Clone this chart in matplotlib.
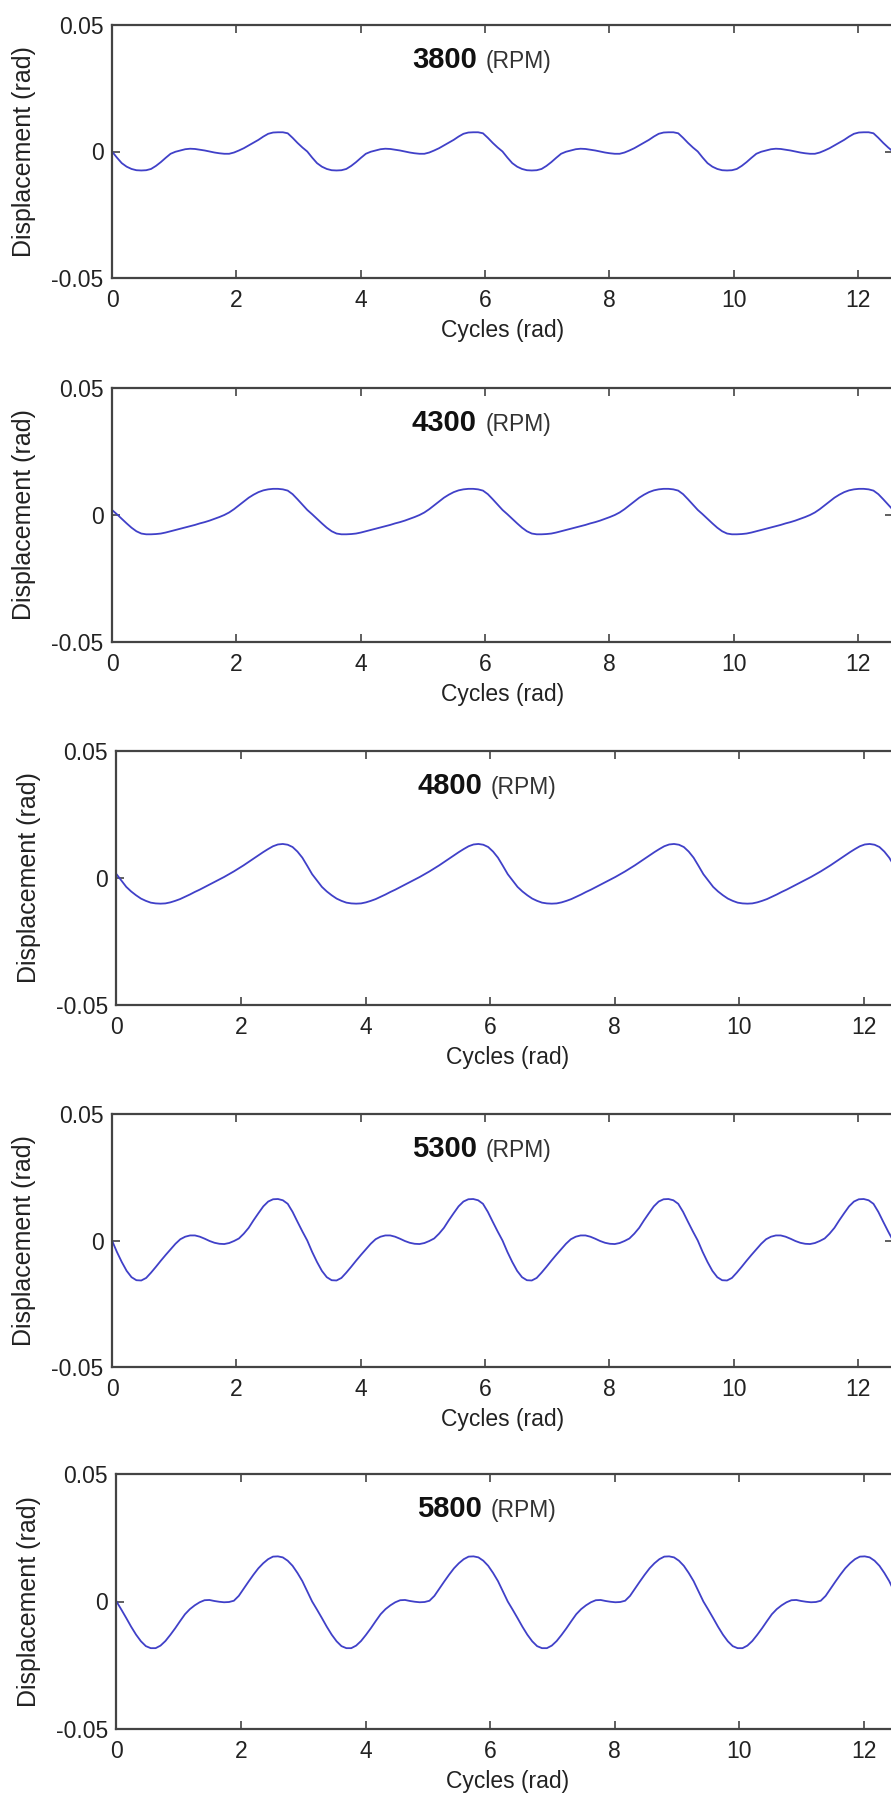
import numpy as np
import matplotlib
matplotlib.use("Agg")
import matplotlib.pyplot as plt

plt.rcParams["font.family"] = ["Liberation Sans", "DejaVu Sans"]

# speeds shown in each panel (top to bottom)
rpm = ["3800", "4300", "4800", "5300", "5800"]

# cycles axis, read at pi/40 steps from 0 to 4*pi
cycles = np.linspace(0, 4 * np.pi, 161)

# displacement readings in mrad, one row per pi of cycles
disp_3800 = [
    0.0, -2.4, -4.6, -6.0, -6.9, -7.4, -7.5, -7.4, -6.9, -5.7, -4.2, -2.5, -0.9, -0.1, 0.4, 0.9, 1.1, 1.0, 0.7, 0.4,
    0.0, -0.4, -0.7, -0.9, -0.9, -0.4, 0.4, 1.3, 2.4, 3.5, 4.6, 5.9, 7.0, 7.5, 7.6, 7.6, 7.2, 5.4, 3.4, 1.6,
    0.0, -2.4, -4.6, -6.0, -6.9, -7.4, -7.5, -7.4, -6.9, -5.7, -4.2, -2.5, -0.9, -0.1, 0.4, 0.9, 1.1, 1.0, 0.7, 0.4,
    0.0, -0.4, -0.7, -0.9, -0.9, -0.4, 0.4, 1.3, 2.4, 3.5, 4.6, 5.9, 7.0, 7.5, 7.6, 7.6, 7.2, 5.4, 3.4, 1.6,
    0.0, -2.4, -4.6, -6.0, -6.9, -7.4, -7.5, -7.4, -6.9, -5.7, -4.2, -2.5, -0.9, -0.1, 0.4, 0.9, 1.1, 1.0, 0.7, 0.4,
    0.0, -0.4, -0.7, -0.9, -0.9, -0.4, 0.4, 1.3, 2.4, 3.5, 4.6, 5.9, 7.0, 7.5, 7.6, 7.6, 7.2, 5.4, 3.4, 1.6,
    0.0, -2.4, -4.6, -6.0, -6.9, -7.4, -7.5, -7.4, -6.9, -5.7, -4.2, -2.5, -0.9, -0.1, 0.4, 0.9, 1.1, 1.0, 0.7, 0.4,
    0.0, -0.4, -0.7, -0.9, -0.9, -0.4, 0.4, 1.3, 2.4, 3.5, 4.6, 5.9, 7.0, 7.5, 7.6, 7.6, 7.2, 5.4, 3.4, 1.6,
    0.0]
disp_4300 = [
    2.0, 0.3, -1.5, -3.3, -5.0, -6.4, -7.3, -7.6, -7.6, -7.5, -7.3, -6.9, -6.4, -5.9, -5.4, -4.9, -4.4, -3.9, -3.3, -2.8,
    -2.2, -1.5, -0.8, 0.0, 1.0, 2.3, 3.8, 5.3, 6.8, 8.0, 9.0, 9.7, 10.1, 10.3, 10.3, 10.1, 9.6, 8.2, 6.2, 4.1,
    2.0, 0.3, -1.5, -3.3, -5.0, -6.4, -7.3, -7.6, -7.6, -7.5, -7.3, -6.9, -6.4, -5.9, -5.4, -4.9, -4.4, -3.9, -3.3, -2.8,
    -2.2, -1.5, -0.8, 0.0, 1.0, 2.3, 3.8, 5.3, 6.8, 8.0, 9.0, 9.7, 10.1, 10.3, 10.3, 10.1, 9.6, 8.2, 6.2, 4.1,
    2.0, 0.3, -1.5, -3.3, -5.0, -6.4, -7.3, -7.6, -7.6, -7.5, -7.3, -6.9, -6.4, -5.9, -5.4, -4.9, -4.4, -3.9, -3.3, -2.8,
    -2.2, -1.5, -0.8, 0.0, 1.0, 2.3, 3.8, 5.3, 6.8, 8.0, 9.0, 9.7, 10.1, 10.3, 10.3, 10.1, 9.6, 8.2, 6.2, 4.1,
    2.0, 0.3, -1.5, -3.3, -5.0, -6.4, -7.3, -7.6, -7.6, -7.5, -7.3, -6.9, -6.4, -5.9, -5.4, -4.9, -4.4, -3.9, -3.3, -2.8,
    -2.2, -1.5, -0.8, 0.0, 1.0, 2.3, 3.8, 5.3, 6.8, 8.0, 9.0, 9.7, 10.1, 10.3, 10.3, 10.1, 9.6, 8.2, 6.2, 4.1,
    2.0]
disp_4800 = [
    1.5, -1.0, -3.5, -5.3, -6.8, -8.1, -9.0, -9.7, -10.0, -10.1, -10.0, -9.6, -9.0, -8.3, -7.4, -6.5, -5.5, -4.6, -3.6, -2.6,
    -1.6, -0.6, 0.4, 1.5, 2.6, 3.8, 5.0, 6.3, 7.6, 8.9, 10.2, 11.4, 12.5, 13.2, 13.4, 13.1, 12.2, 10.4, 8.0, 4.8,
    1.5, -1.0, -3.5, -5.3, -6.8, -8.1, -9.0, -9.7, -10.0, -10.1, -10.0, -9.6, -9.0, -8.3, -7.4, -6.5, -5.5, -4.6, -3.6, -2.6,
    -1.6, -0.6, 0.4, 1.5, 2.6, 3.8, 5.0, 6.3, 7.6, 8.9, 10.2, 11.4, 12.5, 13.2, 13.4, 13.1, 12.2, 10.4, 8.0, 4.8,
    1.5, -1.0, -3.5, -5.3, -6.8, -8.1, -9.0, -9.7, -10.0, -10.1, -10.0, -9.6, -9.0, -8.3, -7.4, -6.5, -5.5, -4.6, -3.6, -2.6,
    -1.6, -0.6, 0.4, 1.5, 2.6, 3.8, 5.0, 6.3, 7.6, 8.9, 10.2, 11.4, 12.5, 13.2, 13.4, 13.1, 12.2, 10.4, 8.0, 4.8,
    1.5, -1.0, -3.5, -5.3, -6.8, -8.1, -9.0, -9.7, -10.0, -10.1, -10.0, -9.6, -9.0, -8.3, -7.4, -6.5, -5.5, -4.6, -3.6, -2.6,
    -1.6, -0.6, 0.4, 1.5, 2.6, 3.8, 5.0, 6.3, 7.6, 8.9, 10.2, 11.4, 12.5, 13.2, 13.4, 13.1, 12.2, 10.4, 8.0, 4.8,
    1.5]
disp_5300 = [
    0.0, -4.5, -8.5, -12.0, -14.5, -15.7, -15.8, -14.8, -12.7, -10.4, -8.0, -5.7, -3.5, -1.3, 0.5, 1.5, 2.0, 2.0, 1.5, 0.7,
    -0.2, -0.9, -1.3, -1.4, -1.0, -0.2, 0.8, 2.7, 5.0, 8.0, 10.8, 13.5, 15.4, 16.3, 16.4, 15.9, 14.5, 11.3, 7.4, 3.6,
    0.0, -4.5, -8.5, -12.0, -14.5, -15.7, -15.8, -14.8, -12.7, -10.4, -8.0, -5.7, -3.5, -1.3, 0.5, 1.5, 2.0, 2.0, 1.5, 0.7,
    -0.2, -0.9, -1.3, -1.4, -1.0, -0.2, 0.8, 2.7, 5.0, 8.0, 10.8, 13.5, 15.4, 16.3, 16.4, 15.9, 14.5, 11.3, 7.4, 3.6,
    0.0, -4.5, -8.5, -12.0, -14.5, -15.7, -15.8, -14.8, -12.7, -10.4, -8.0, -5.7, -3.5, -1.3, 0.5, 1.5, 2.0, 2.0, 1.5, 0.7,
    -0.2, -0.9, -1.3, -1.4, -1.0, -0.2, 0.8, 2.7, 5.0, 8.0, 10.8, 13.5, 15.4, 16.3, 16.4, 15.9, 14.5, 11.3, 7.4, 3.6,
    0.0, -4.5, -8.5, -12.0, -14.5, -15.7, -15.8, -14.8, -12.7, -10.4, -8.0, -5.7, -3.5, -1.3, 0.5, 1.5, 2.0, 2.0, 1.5, 0.7,
    -0.2, -0.9, -1.3, -1.4, -1.0, -0.2, 0.8, 2.7, 5.0, 8.0, 10.8, 13.5, 15.4, 16.3, 16.4, 15.9, 14.5, 11.3, 7.4, 3.6,
    0.0]
disp_5800 = [
    0.0, -3.2, -6.5, -9.9, -13.0, -15.6, -17.5, -18.3, -18.3, -17.3, -15.5, -13.1, -10.5, -7.7, -5.0, -3.0, -1.5, -0.3, 0.5, 0.6,
    0.2, -0.1, -0.3, -0.2, 0.3, 2.2, 5.0, 7.8, 10.5, 13.0, 15.0, 16.6, 17.6, 17.7, 17.3, 16.0, 14.0, 11.2, 8.0, 4.0,
    0.0, -3.2, -6.5, -9.9, -13.0, -15.6, -17.5, -18.3, -18.3, -17.3, -15.5, -13.1, -10.5, -7.7, -5.0, -3.0, -1.5, -0.3, 0.5, 0.6,
    0.2, -0.1, -0.3, -0.2, 0.3, 2.2, 5.0, 7.8, 10.5, 13.0, 15.0, 16.6, 17.6, 17.7, 17.3, 16.0, 14.0, 11.2, 8.0, 4.0,
    0.0, -3.2, -6.5, -9.9, -13.0, -15.6, -17.5, -18.3, -18.3, -17.3, -15.5, -13.1, -10.5, -7.7, -5.0, -3.0, -1.5, -0.3, 0.5, 0.6,
    0.2, -0.1, -0.3, -0.2, 0.3, 2.2, 5.0, 7.8, 10.5, 13.0, 15.0, 16.6, 17.6, 17.7, 17.3, 16.0, 14.0, 11.2, 8.0, 4.0,
    0.0, -3.2, -6.5, -9.9, -13.0, -15.6, -17.5, -18.3, -18.3, -17.3, -15.5, -13.1, -10.5, -7.7, -5.0, -3.0, -1.5, -0.3, 0.5, 0.6,
    0.2, -0.1, -0.3, -0.2, 0.3, 2.2, 5.0, 7.8, 10.5, 13.0, 15.0, 16.6, 17.6, 17.7, 17.3, 16.0, 14.0, 11.2, 8.0, 4.0,
    0.0]
series = [disp_3800, disp_4300, disp_4800, disp_5300, disp_5800]

xticks = [0, 2, 4, 6, 8, 10, 12]
yticks = [-0.05, 0, 0.05]
ytick_labels = ["-0.05", "0", "0.05"]

# panel boxes in pixels: left, top, bottom, right (right edge runs off the image)
W, H = 891, 1793
boxes = [(112, 25, 278, 893),
         (112, 388, 642, 893),
         (116.5, 751, 1005, 899),
         (112, 1114, 1367, 893),
         (116.5, 1474, 1729, 899)]

fig = plt.figure(figsize=(W / 100, H / 100), dpi=100)
fig.patch.set_facecolor("white")

for speed, disp, (l, t, b, r) in zip(rpm, series, boxes):
    ax = fig.add_axes([l / W, 1 - b / H, (r - l) / W, (b - t) / H])
    ax.plot(cycles, np.array(disp) * 1e-3, color="#4040c8", lw=1.3)
    ax.set_xlim(0, 4 * np.pi)
    ax.set_ylim(-0.05, 0.05)
    ax.set_xticks(xticks)
    ax.set_yticks(yticks)
    ax.set_yticklabels(ytick_labels)
    for s in ax.spines.values():
        s.set_color("#444444")
        s.set_linewidth(1.6)
    ax.tick_params(direction="in", top=True, right=True, length=6, width=1.2,
                   color="#444444", labelsize=16.5, labelcolor="#222222")
    ax.tick_params(axis="x", pad=8)
    ax.tick_params(axis="y", pad=6)
    ax.set_xlabel("Cycles (rad)", fontsize=16.5, color="#222222", labelpad=5)
    ax.set_ylabel("Displacement (rad)", fontsize=18, color="#222222", labelpad=11)
    ax.text(0.467, 0.83, speed, transform=ax.transAxes, ha="right", va="baseline",
            fontsize=21, fontweight="bold", color="#111111")
    ax.text(0.478, 0.83, "(RPM)", transform=ax.transAxes, ha="left", va="baseline",
            fontsize=16.5, color="#333333")

fig.savefig("out.png", dpi=100)
